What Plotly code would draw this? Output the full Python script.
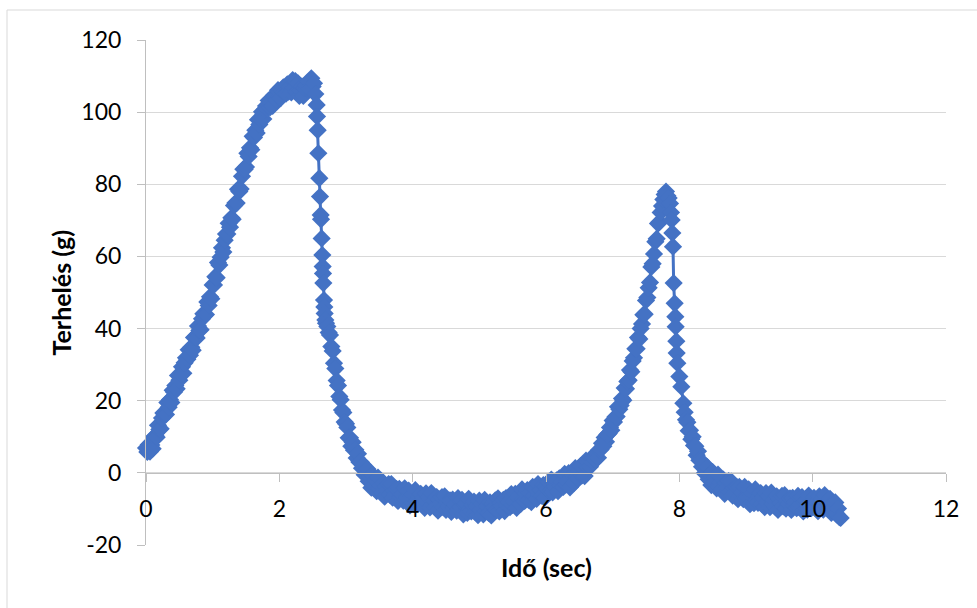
import plotly.graph_objects as go

# ---- data (time in s, load in g) ----
time_s = [
    # first rise
    0.00, 0.02, 0.04, 0.06, 0.08, 0.10, 0.12, 0.14, 0.16, 0.18,
    0.20, 0.22, 0.24, 0.26, 0.28, 0.30, 0.32, 0.34, 0.36, 0.38,
    0.40, 0.42, 0.44, 0.46, 0.48, 0.50, 0.52, 0.54, 0.56, 0.58,
    0.60, 0.62, 0.64, 0.66, 0.68, 0.70, 0.72, 0.74, 0.76, 0.78,
    0.80, 0.82, 0.84, 0.86, 0.88, 0.90, 0.92, 0.94, 0.96, 0.98,
    1.00, 1.02, 1.04, 1.06, 1.08, 1.10, 1.12, 1.14, 1.16, 1.18,
    1.20, 1.22, 1.24, 1.26, 1.28, 1.30, 1.32, 1.34, 1.36, 1.38,
    1.40, 1.42, 1.44, 1.46, 1.48, 1.50, 1.52, 1.54, 1.56, 1.58,
    1.60, 1.62, 1.64, 1.66, 1.68, 1.70, 1.72, 1.74, 1.76, 1.78,
    1.80, 1.82, 1.84, 1.86, 1.88, 1.90, 1.92, 1.94, 1.96, 1.98,
    2.00, 2.02, 2.04, 2.06, 2.08, 2.10, 2.12, 2.14, 2.16, 2.18,
    2.20, 2.22, 2.24, 2.26, 2.28, 2.30, 2.32, 2.34, 2.36, 2.38,
    2.40, 2.42, 2.44, 2.46, 2.48, 2.50, 2.52, 2.54,
    # first drop
    2.56, 2.565, 2.575, 2.585, 2.60, 2.61, 2.62, 2.625, 2.635, 2.645,
    2.65, 2.655, 2.66, 2.67, 2.675, 2.68, 2.69,
    2.70, 2.72, 2.74, 2.76, 2.78, 2.80, 2.82, 2.84, 2.86, 2.88,
    2.90, 2.92, 2.94, 2.96, 2.98, 3.00,
    # valley and second rise
    3.02, 3.04, 3.06, 3.08, 3.10, 3.12, 3.14, 3.16, 3.18, 3.20,
    3.22, 3.24, 3.26, 3.28, 3.30, 3.32, 3.34, 3.36, 3.38, 3.40,
    3.42, 3.44, 3.46, 3.48, 3.50, 3.52, 3.54, 3.56, 3.58, 3.60,
    3.62, 3.64, 3.66, 3.68, 3.70, 3.72, 3.74, 3.76, 3.78, 3.80,
    3.82, 3.84, 3.86, 3.88, 3.90, 3.92, 3.94, 3.96, 3.98, 4.00,
    4.02, 4.04, 4.06, 4.08, 4.10, 4.12, 4.14, 4.16, 4.18, 4.20,
    4.22, 4.24, 4.26, 4.28, 4.30, 4.32, 4.34, 4.36, 4.38, 4.40,
    4.42, 4.44, 4.46, 4.48, 4.50, 4.52, 4.54, 4.56, 4.58, 4.60,
    4.62, 4.64, 4.66, 4.68, 4.70, 4.72, 4.74, 4.76, 4.78, 4.80,
    4.82, 4.84, 4.86, 4.88, 4.90, 4.92, 4.94, 4.96, 4.98, 5.00,
    5.02, 5.04, 5.06, 5.08, 5.10, 5.12, 5.14, 5.16, 5.18, 5.20,
    5.22, 5.24, 5.26, 5.28, 5.30, 5.32, 5.34, 5.36, 5.38, 5.40,
    5.42, 5.44, 5.46, 5.48, 5.50, 5.52, 5.54, 5.56, 5.58, 5.60,
    5.62, 5.64, 5.66, 5.68, 5.70, 5.72, 5.74, 5.76, 5.78, 5.80,
    5.82, 5.84, 5.86, 5.88, 5.90, 5.92, 5.94, 5.96, 5.98, 6.00,
    6.02, 6.04, 6.06, 6.08, 6.10, 6.12, 6.14, 6.16, 6.18, 6.20,
    6.22, 6.24, 6.26, 6.28, 6.30, 6.32, 6.34, 6.36, 6.38, 6.40,
    6.42, 6.44, 6.46, 6.48, 6.50, 6.52, 6.54, 6.56, 6.58, 6.60,
    6.62, 6.64, 6.66, 6.68, 6.70, 6.72, 6.74, 6.76, 6.78, 6.80,
    6.82, 6.84, 6.86, 6.88, 6.90, 6.92, 6.94, 6.96, 6.98, 7.00,
    7.02, 7.04, 7.06, 7.08, 7.10, 7.12, 7.14, 7.16, 7.18, 7.20,
    7.22, 7.24, 7.26, 7.28, 7.30, 7.32, 7.34, 7.36, 7.38, 7.40,
    7.42, 7.44, 7.46, 7.48, 7.50, 7.52, 7.54, 7.56, 7.58, 7.60,
    7.62, 7.64, 7.66, 7.68, 7.70, 7.72,
    # second peak and drop
    7.74, 7.76, 7.78, 7.80, 7.82, 7.84,
    7.86, 7.875, 7.885, 7.895, 7.905, 7.915, 7.93, 7.94, 7.945, 7.955,
    7.96, 7.97, 8.00, 8.03, 8.06, 8.08, 8.10,
    # tail
    8.12, 8.14, 8.16, 8.18, 8.20, 8.22, 8.24, 8.26, 8.28, 8.30,
    8.32, 8.34, 8.36, 8.38, 8.40, 8.42, 8.44, 8.46, 8.48, 8.50,
    8.52, 8.54, 8.56, 8.58, 8.60, 8.62, 8.64, 8.66, 8.68, 8.70,
    8.72, 8.74, 8.76, 8.78, 8.80, 8.82, 8.84, 8.86, 8.88, 8.90,
    8.92, 8.94, 8.96, 8.98, 9.00, 9.02, 9.04, 9.06, 9.08, 9.10,
    9.12, 9.14, 9.16, 9.18, 9.20, 9.22, 9.24, 9.26, 9.28, 9.30,
    9.32, 9.34, 9.36, 9.38, 9.40, 9.42, 9.44, 9.46, 9.48, 9.50,
    9.52, 9.54, 9.56, 9.58, 9.60, 9.62, 9.64, 9.66, 9.68, 9.70,
    9.72, 9.74, 9.76, 9.78, 9.80, 9.82, 9.84, 9.86, 9.88, 9.90,
    9.92, 9.94, 9.96, 9.98, 10.00, 10.02, 10.04, 10.06, 10.08, 10.10,
    10.12, 10.14, 10.16, 10.18, 10.20, 10.22, 10.24, 10.26, 10.28, 10.30,
    10.32, 10.34, 10.36, 10.38, 10.40, 10.42,
]

load_g = [
    # first rise
    6.9, 5.8, 7.8, 5.9, 7.7, 6.7, 10.0, 10.3, 9.9, 13.2,
    12.0, 12.2, 15.2, 16.6, 16.1, 16.2, 19.5, 18.2, 20.3, 19.5,
    22.9, 22.4, 24.2, 23.3, 27.0, 25.7, 27.3, 29.4, 27.6, 30.5,
    31.9, 31.5, 34.1, 32.6, 34.8, 34.0, 37.5, 37.8, 37.4, 40.7,
    39.5, 39.7, 42.7, 44.1, 43.6, 43.9, 47.4, 46.4, 48.8, 48.3,
    52.1, 52.1, 54.4, 54.1, 58.3, 57.6, 59.8, 62.4, 61.2, 64.5,
    66.2, 66.2, 69.2, 68.1, 70.7, 70.3, 74.1, 74.8, 74.8, 78.6,
    78.0, 78.7, 82.2, 84.2, 84.2, 84.8, 88.6, 87.7, 90.1, 89.6,
    93.3, 93.0, 95.0, 94.2, 97.9, 96.6, 98.1, 100.1, 98.1, 100.7,
    101.7, 101.0, 103.2, 101.3, 103.0, 101.7, 104.6, 104.4, 103.4, 106.1,
    104.3, 103.9, 106.1, 106.9, 105.7, 105.1, 107.7, 105.7, 107.0, 105.5,
    108.9, 106.7, 108.6, 105.6, 108.0, 104.5, 106.0, 107.1, 104.5, 106.7,
    107.4, 106.5, 108.5, 106.4, 109.4, 107.1, 108.0, 105.0,
    # first drop
    102.0, 98.8, 95.0, 88.6, 81.7, 76.6, 71.5, 70.3, 65.0, 60.4,
    57.2, 55.3, 52.6, 47.9, 46.0, 44.2, 42.4,
    41.5, 40.6, 38.9, 38.2, 35.0, 33.8, 30.4, 28.9, 25.6, 24.2,
    21.2, 20.3, 17.4, 16.7, 14.1, 13.6,
    # valley and second rise
    12.6, 9.7, 9.7, 7.4, 8.5, 6.3, 6.4, 4.1, 5.3, 3.0,
    3.0, 1.3, 2.1, -0.5, 0.5, 1.1, -2.3, -1.1, -4.1, -0.6,
    -3.4, -2.0, -5.1, -1.3, -4.5, -3.5, -5.5, -2.8, -6.6, -3.7,
    -4.8, -3.1, -6.1, -3.1, -6.9, -4.8, -5.9, -4.5, -7.8, -4.4,
    -6.7, -6.0, -7.7, -4.3, -7.5, -6.9, -4.9, -9.0, -6.5, -6.0,
    -8.6, -4.8, -7.7, -8.4, -6.6, -5.8, -8.7, -7.0, -9.7, -5.7,
    -8.3, -6.6, -9.6, -5.6, -8.8, -7.7, -9.5, -6.7, -10.5, -7.4,
    -8.5, -6.7, -9.5, -6.5, -10.3, -8.0, -9.1, -7.6, -10.8, -7.4,
    -9.7, -8.8, -10.5, -7.0, -10.2, -9.5, -7.5, -11.5, -9.0, -8.4,
    -11.1, -7.2, -10.0, -10.7, -8.9, -8.0, -10.9, -9.1, -11.7, -7.7,
    -10.3, -8.6, -11.5, -7.5, -10.6, -9.3, -11.1, -8.2, -11.8, -8.7,
    -9.6, -7.6, -10.3, -7.1, -10.7, -8.3, -9.2, -7.5, -10.6, -7.0,
    -9.1, -8.0, -9.5, -5.9, -8.9, -8.0, -5.8, -9.7, -6.9, -6.2,
    -8.6, -4.6, -7.3, -7.8, -5.8, -4.8, -7.5, -5.6, -8.1, -3.9,
    -6.3, -4.5, -7.2, -3.1, -6.1, -4.7, -6.4, -3.4, -6.9, -3.7,
    -4.5, -2.5, -5.1, -1.9, -5.4, -3.0, -3.8, -2.1, -5.1, -1.5,
    -3.5, -2.5, -3.9, -0.3, -3.2, -2.4, -0.1, -4.0, -1.2, -0.5,
    -2.8, 1.3, -1.2, -1.6, 0.7, 1.9, -0.7, 1.4, -0.9, 3.4,
    1.6, 2.9, 1.7, 4.1, 2.9, 4.1, 3.6, 5.6, 4.2, 6.4,
    6.5, 8.2, 7.4, 9.8, 8.6, 10.6, 10.9, 12.6, 11.8, 14.5,
    14.1, 15.5, 15.6, 18.3, 17.6, 18.7, 20.6, 20.1, 23.5, 23.3,
    25.3, 25.7, 28.5, 28.0, 31.0, 31.9, 34.4, 34.4, 37.5, 37.1,
    40.0, 41.3, 43.8, 44.0, 47.8, 48.6, 51.3, 52.8, 57.1, 58.0,
    60.7, 64.1, 64.9, 69.1, 69.5, 72.2,
    # second peak and drop
    74.0, 75.8, 77.2, 78.0, 76.8, 76.2,
    74.7, 72.2, 70.1, 66.5, 62.7, 52.6, 47.0, 43.3, 40.5, 36.5,
    33.2, 30.4, 26.7, 23.9, 19.3, 16.8, 14.7,
    # tail
    14.0, 11.7, 11.8, 9.3, 10.0, 7.6, 7.4, 4.9, 6.0, 3.5,
    3.4, 1.7, 2.5, -0.1, 0.9, 1.6, -1.8, -0.4, -3.4, 0.2,
    -2.6, -1.2, -4.3, -0.5, -3.8, -2.7, -4.7, -1.9, -5.8, -2.8,
    -4.0, -2.3, -5.3, -2.4, -6.3, -4.2, -5.4, -3.9, -7.3, -3.9,
    -6.3, -5.5, -7.3, -3.9, -7.2, -6.6, -4.6, -8.7, -6.2, -5.7,
    -8.4, -4.6, -7.5, -8.3, -6.5, -5.6, -8.6, -6.8, -9.5, -5.6,
    -8.2, -6.5, -9.5, -5.5, -8.7, -7.5, -9.4, -6.5, -10.3, -7.2,
    -8.3, -6.4, -9.3, -6.2, -9.9, -7.7, -8.7, -7.1, -10.3, -6.9,
    -9.1, -8.2, -9.8, -6.4, -9.5, -8.8, -6.7, -10.7, -8.1, -7.6,
    -10.2, -6.3, -9.1, -9.8, -7.9, -6.9, -9.8, -8.0, -10.6, -6.5,
    -9.0, -7.3, -10.2, -6.2, -9.3, -8.1, -10.0, -7.2, -11.1, -8.3,
    -9.7, -8.2, -11.5, -9.9, -12.3, -12.5,
]

assert len(time_s) == len(load_g), (len(time_s), len(load_g))

x_ticks = [0, 2, 4, 6, 8, 10, 12]
y_ticks = [-20, 0, 20, 40, 60, 80, 100, 120]
x_title = "Idő (sec)"
y_title = "Terhelés (g)"

# ---- figure ----
BLUE = "#4472C4"
AXIS = "#bfbfbf"
GRID = "#d9d9d9"
FONT = "Lato"

fig = go.Figure()
fig.add_trace(go.Scatter(
    x=time_s, y=load_g, mode="lines+markers",
    line=dict(color=BLUE, width=3),
    marker=dict(symbol="diamond", size=14, color=BLUE, line=dict(width=0)),
    cliponaxis=False, showlegend=False, hoverinfo="skip",
))

y0, y1 = -20, 120
fig.update_layout(
    width=977, height=608,
    margin=dict(l=146, r=31, t=40, b=63),
    paper_bgcolor="white", plot_bgcolor="white",
    font=dict(family=FONT, size=23, color="#000000"),
    xaxis=dict(
        range=[0, 12], tickvals=x_ticks, ticktext=[str(v) for v in x_ticks],
        showgrid=False, zeroline=False,
        showline=True, linecolor=AXIS, linewidth=1,
        ticks="outside", ticklen=8, tickcolor=AXIS, tickwidth=1,
        anchor="free", position=(0 - y0) / (y1 - y0),
        ticklabelstandoff=8,
        tickfont=dict(family=FONT, size=23, color="#000000"),
    ),
    yaxis=dict(
        range=[y0, y1], tickvals=y_ticks, ticktext=[str(v) for v in y_ticks],
        showgrid=True, gridcolor=GRID, gridwidth=1, zeroline=False,
        showline=True, linecolor=AXIS, linewidth=1,
        ticks="outside", ticklen=8, tickcolor=AXIS, tickwidth=1,
        ticklabelstandoff=11,
        tickfont=dict(family=FONT, size=23, color="#000000"),
    ),
    annotations=[
        dict(text="<b>" + x_title + "</b>", xref="paper", yref="paper",
             x=0.5, y=(545 - 567) / 505, xanchor="center", yanchor="middle",
             showarrow=False, font=dict(family=FONT, size=25, color="#000000")),
        dict(text="<b>" + y_title + "</b>", xref="paper", yref="paper",
             x=(60 - 146) / 800, y=0.5, xanchor="center", yanchor="middle",
             textangle=-90, showarrow=False,
             font=dict(family=FONT, size=25, color="#000000")),
    ],
    shapes=[
        dict(type="rect", xref="paper", yref="paper",
             x0=(7 - 146) / 800, x1=(1000 - 146) / 800,
             y0=(545 - 640) / 505, y1=(545 - 10) / 505,
             line=dict(color=GRID, width=1), fillcolor="rgba(0,0,0,0)", layer="below"),
    ],
)

fig.write_html("out.html")
